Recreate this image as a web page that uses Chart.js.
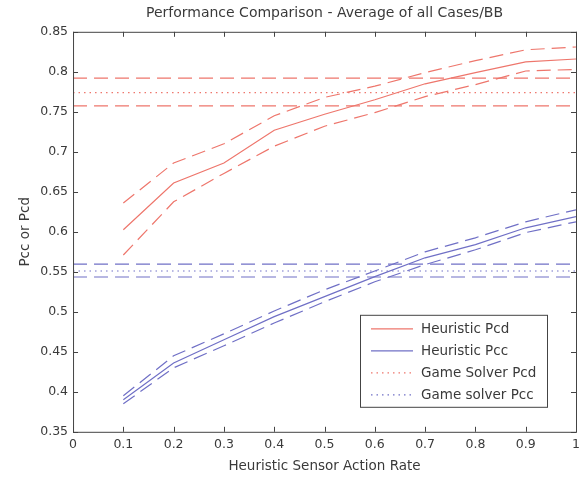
<!DOCTYPE html>
<html>
<head>
<meta charset="utf-8">
<script src="https://cdn.jsdelivr.net/npm/chart.js@4.4.1/dist/chart.umd.min.js"></script>
<style>
  html, body { margin: 0; padding: 0; background: #fff; }
</style>
</head>
<body>
<canvas id="perfChart" width="581" height="479"></canvas>
<script>
// sensor action rates (x)
var rates = [0.1, 0.2, 0.3, 0.4, 0.5, 0.6, 0.7, 0.8, 0.9, 1.0];

// heuristic Pcd with upper/lower bounds
var heurPcd   = [0.6025, 0.661, 0.686, 0.727, 0.747, 0.765, 0.785, 0.799, 0.8125, 0.816];
var heurPcdHi = [0.636, 0.686, 0.710, 0.745, 0.768, 0.782, 0.799, 0.814, 0.8275, 0.831];
var heurPcdLo = [0.571, 0.6375, 0.673, 0.707, 0.732, 0.749, 0.769, 0.784, 0.801, 0.803];

// heuristic Pcc with upper/lower bounds
var heurPcc   = [0.390, 0.436, 0.465, 0.494, 0.519, 0.544, 0.5675, 0.584, 0.605, 0.619];
var heurPccHi = [0.395, 0.445, 0.4725, 0.501, 0.5275, 0.551, 0.575, 0.5925, 0.6125, 0.6275];
var heurPccLo = [0.385, 0.430, 0.4575, 0.486, 0.5125, 0.5375, 0.559, 0.5775, 0.599, 0.6125];

// game solver levels: [lower, mean, upper]
var solverPcd = [0.7575, 0.774, 0.792];
var solverPcc = [0.5435, 0.551, 0.5595];
var lineEnds = [0, 1];

var xTicks = [0, 0.1, 0.2, 0.3, 0.4, 0.5, 0.6, 0.7, 0.8, 0.9, 1];
var yTicks = [0.35, 0.4, 0.45, 0.5, 0.55, 0.6, 0.65, 0.7, 0.75, 0.8, 0.85];

var legendLabels = ['Heuristic Pcd', 'Heuristic Pcc', 'Game Solver Pcd', 'Game solver Pcc'];

var RED = 'rgb(238,118,108)';
var BLUE = 'rgb(112,112,198)';
var DASH = [14, 7];
var DOT = [1.5, 4];
var FONT = '"DejaVu Sans", Verdana, sans-serif';
var FS = 12.5;
var TXT = '#3a3a3a';

function pts(ys) {
  return rates.map(function (x, i) { return { x: x, y: ys[i] }; });
}
function flat(v) {
  return lineEnds.map(function (x) { return { x: x, y: v }; });
}
function ds(data, color, dash) {
  return {
    data: data, borderColor: color, borderDash: dash || [],
    borderWidth: 1.2, pointRadius: 0, fill: false, tension: 0
  };
}

var datasets = [
  ds(pts(heurPcd), RED),            // 0
  ds(pts(heurPcc), BLUE),           // 1
  ds(flat(solverPcd[1]), RED, DOT), // 2
  ds(flat(solverPcc[1]), BLUE, DOT),// 3
  ds(pts(heurPcdHi), RED, DASH),
  ds(pts(heurPcdLo), RED, DASH),
  ds(pts(heurPccHi), BLUE, DASH),
  ds(pts(heurPccLo), BLUE, DASH),
  ds(flat(solverPcd[0]), RED, DASH),
  ds(flat(solverPcd[2]), RED, DASH),
  ds(flat(solverPcc[0]), BLUE, DASH),
  ds(flat(solverPcc[2]), BLUE, DASH)
];

function fmt(v) { return String(Number(v.toFixed(2))); }

// box + inward ticks, matlab style
var framePlugin = {
  id: 'frame',
  afterDraw: function (chart) {
    var c = chart.ctx, a = chart.chartArea;
    var sx = chart.scales.x, sy = chart.scales.y;
    c.save();
    c.strokeStyle = '#444';
    c.lineWidth = 1;
    c.setLineDash([]);
    c.strokeRect(a.left + 0.5, a.top + 0.5, a.right - a.left, a.bottom - a.top);
    c.beginPath();
    xTicks.forEach(function (v) {
      var px = Math.round(sx.getPixelForValue(v)) + 0.5;
      c.moveTo(px, a.bottom); c.lineTo(px, a.bottom - 5);
      c.moveTo(px, a.top); c.lineTo(px, a.top + 5);
    });
    yTicks.forEach(function (v) {
      var py = Math.round(sy.getPixelForValue(v)) + 0.5;
      c.moveTo(a.left, py); c.lineTo(a.left + 5, py);
      c.moveTo(a.right, py); c.lineTo(a.right - 5, py);
    });
    c.stroke();
    c.restore();
  }
};

var legendPlugin = {
  id: 'boxLegend',
  afterDraw: function (chart) {
    var c = chart.ctx, a = chart.chartArea;
    var w = 187, h = 92;
    var x0 = a.right - 29 - w, y0 = a.bottom - 25 - h;
    c.save();
    c.fillStyle = '#fff';
    c.fillRect(x0, y0, w, h);
    c.strokeStyle = '#444';
    c.lineWidth = 1;
    c.strokeRect(x0 + 0.5, y0 + 0.5, w, h);
    c.font = '13.5px ' + FONT;
    c.textBaseline = 'middle';
    legendLabels.forEach(function (lab, i) {
      var d = chart.data.datasets[i];
      var y = y0 + 14 + i * 22;
      c.strokeStyle = d.borderColor;
      c.lineWidth = 1.2;
      c.setLineDash(d.borderDash);
      c.beginPath();
      c.moveTo(x0 + 11, y); c.lineTo(x0 + 53, y);
      c.stroke();
      c.setLineDash([]);
      c.fillStyle = TXT;
      c.fillText(lab, x0 + 61, y + 1);
    });
    c.restore();
  }
};

new Chart(document.getElementById('perfChart').getContext('2d'), {
  type: 'line',
  data: { datasets: datasets },
  options: {
    responsive: false,
    animation: false,
    layout: { padding: { left: 17, right: 5, top: 0, bottom: 4 } },
    plugins: {
      legend: { display: false },
      tooltip: { enabled: false },
      title: {
        display: true,
        fullSize: false,
        text: 'Performance Comparison - Average of all Cases/BB',
        color: TXT,
        font: { family: FONT, size: 14, weight: 'normal' },
        padding: { top: 5, bottom: 10 }
      }
    },
    scales: {
      x: {
        type: 'linear', min: 0, max: 1,
        afterBuildTicks: function (s) { s.ticks = xTicks.map(function (v) { return { value: v }; }); },
        afterFit: function (s) { s.paddingRight = 0; },
        grid: { display: false, drawTicks: false },
        border: { display: false },
        ticks: { color: TXT, font: { family: FONT, size: FS }, padding: 5, maxRotation: 0, autoSkip: false, callback: fmt },
        title: { display: true, text: 'Heuristic Sensor Action Rate', color: TXT, font: { family: FONT, size: 13.5 }, padding: { top: 2, bottom: 0 } }
      },
      y: {
        type: 'linear', min: 0.35, max: 0.85,
        afterBuildTicks: function (s) { s.ticks = yTicks.map(function (v) { return { value: v }; }); },
        grid: { display: false, drawTicks: false },
        border: { display: false },
        ticks: { color: TXT, font: { family: FONT, size: FS }, padding: 5, autoSkip: false, callback: fmt },
        title: { display: true, text: 'Pcc or Pcd', color: TXT, font: { family: FONT, size: 13.5 }, padding: { top: 0, bottom: 2 } }
      }
    }
  },
  plugins: [framePlugin, legendPlugin]
});
</script>
</body>
</html>
